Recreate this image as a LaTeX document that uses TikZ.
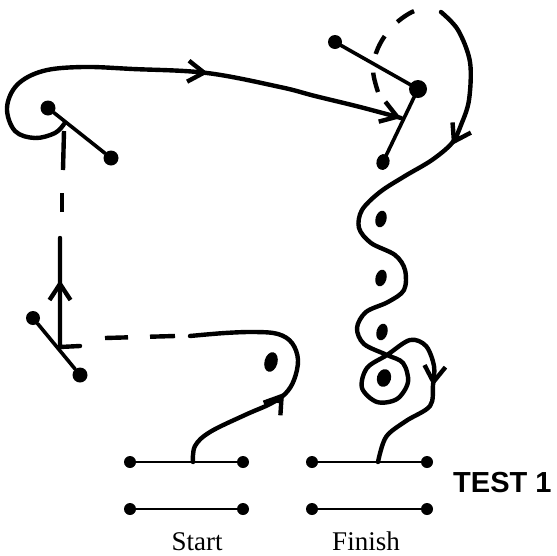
\documentclass[tikz,border=0pt]{standalone}
\usepackage{fontspec}
\setmainfont{Liberation Serif}
\newfontfamily\headfont{Liberation Sans}
\usetikzlibrary{arrows.meta,shapes.geometric}
\begin{document}
\begin{tikzpicture}[x=1pt,y=-1pt,
  pen/.style={line width=4.4pt, line cap=round, line join=round},
  stickpen/.style={line width=3.6pt, line cap=round},
  thinpen/.style={line width=2.8pt, line cap=round},
  dashseg/.style={line width=4.4pt, line cap=butt},
  dasharc/.style={line width=4.4pt, line cap=butt, dash pattern=on 20pt off 19pt},
  blob/.style={circle, fill, inner sep=0pt, minimum size=15pt},
  smallblob/.style={circle, fill, inner sep=0pt, minimum size=12pt},
  oval/.style={ellipse, fill, inner sep=0pt, minimum width=10pt, minimum height=16pt, rotate=-15},
  barb/.style={line width=4.4pt, line cap=round, line join=round, -{Straight Barb[length=16pt,width=21pt]}},
]
\useasboundingbox (0,0) rectangle (557,555);
\fill[white] (0,0) rectangle (557,555);

% ---------- dots ----------
\node[blob] (tl1) at (48,108) {};
\node[blob] (tl2) at (111,158) {};
\node[blob, minimum size=14pt] (tr1) at (335,42) {};
\node[blob, minimum size=18pt] (tr2) at (418,89) {};
\node[oval, minimum width=13pt] (tr3) at (383,162) {};
\node[blob, minimum size=14pt] (bl1) at (33,318) {};
\node[blob] (bl2) at (80,375) {};
\node[oval, minimum width=13pt, minimum height=20pt] (mid) at (271,362) {};
\node[oval, minimum width=11pt, minimum height=17pt] (w1) at (381,219) {};
\node[oval, minimum width=11pt, minimum height=17pt] (w2) at (381,278) {};
\node[oval, minimum width=11pt, minimum height=17pt] (w3) at (382,332) {};
\node[oval, minimum width=14pt, minimum height=18pt] (w4) at (384,378) {};

% ---------- stick figures ----------
\draw[stickpen] (tl1) -- (tl2);
\draw[stickpen] (tr1.center) -- (tr2.center) -- (tr3.center);
\draw[stickpen] (bl1) -- (bl2);

% ---------- start / finish lines ----------
\node[smallblob] (sa1) at (130,462) {};
\node[smallblob] (sa2) at (243,462) {};
\node[smallblob] (sb1) at (130,509) {};
\node[smallblob] (sb2) at (243,509) {};
\node[smallblob] (fa1) at (312,462) {};
\node[smallblob] (fa2) at (427,462) {};
\node[smallblob] (fb1) at (312,509) {};
\node[smallblob] (fb2) at (427,509) {};
\draw[thinpen] (sa1) -- (sa2);
\draw[thinpen] (sb1) -- (sb2);
\draw[thinpen] (fa1) -- (fa2);
\draw[thinpen] (fb1) -- (fb2);

\coordinate (sgo) at (193,462);
\coordinate (fin) at (378,462);

% ---------- route from Start ----------
\draw[pen] plot[smooth, tension=0.6] coordinates {(sgo) (195,446) (210,432) (245,415) (270,404) (285,394) (294,380) (298,360) (292,343) (278,334) (255,332) (225,333) (190,336)};
\draw[barb] (278,401) -- (284,393);
\draw[dashseg, dash pattern=on 25pt off 22pt] (175,336) -- (105,338);
\draw[pen] (80,346) -- (60,347) -- (60,238);
\draw[barb] (60,291) -- (60,280);
\draw[dashseg] (62,212) -- (62,193);
\draw[dashseg] (63,170) -- (64,131);
\coordinate (arrive) at (401,118);
\draw[pen] plot[smooth, tension=0.6] coordinates {(64,124) (55,133) (35,138) (15,131) (7,108) (17,85) (43,71) (83,67) (133,69) (207,73) (280,87) (315,96) (360,107) (arrive)};
\draw[barb] (197,72) -- (208,73);
\draw[barb] (392,115) -- (arrive);

% ---------- route to Finish ----------
\draw[dasharc] plot[smooth, tension=0.6] coordinates {(378,92) (373,70) (378,48) (392,27) (412,12) (432,7)};
\draw[pen] plot[smooth, tension=0.55] coordinates {(441,12) (458,30) (470,62) (469,100) (461,125) (452,143) (432,160) (405,176) (380,192) (362,210) (359,228) (371,243) (395,255) (405,270) (404,290) (388,302) (366,312) (357,328) (364,344) (387,355) (403,363) (408,382) (397,399) (377,402) (362,388) (367,368) (387,355) (410,340) (426,346) (434,366) (433,385) (430,406) (406,421) (386,437) (fin)};
\draw[barb] (457,136) -- (452,145);
\draw[barb] (434,376) -- (433,386);

% ---------- labels ----------
\node[font=\headfont\bfseries\fontsize{29}{30}\selectfont, anchor=base west, inner sep=0pt] (test) at (453,492) {TEST 1};
\node[font=\fontsize{27}{28}\selectfont, anchor=base, inner sep=0pt] (start) at (197,550) {Start};
\node[font=\fontsize{27}{28}\selectfont, anchor=base, inner sep=0pt] (finish) at (366,550) {Finish};
\end{tikzpicture}
\end{document}
